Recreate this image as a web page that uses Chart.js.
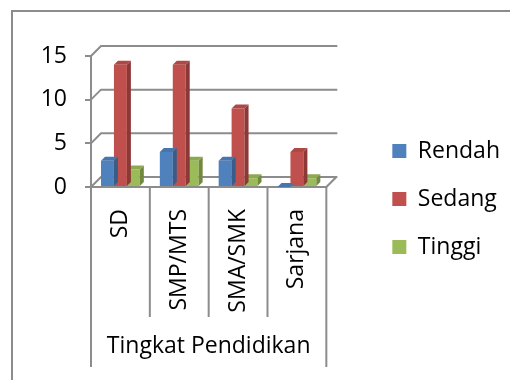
<!DOCTYPE html>
<html>
<head>
<meta charset="utf-8">
<script src="https://cdn.jsdelivr.net/npm/chart.js@4/dist/chart.umd.min.js"></script>
<style>
  html, body { margin: 0; padding: 0; background: #fff; }
  #wrap { position: relative; width: 510px; height: 380px; overflow: hidden; }
  #frame { position: absolute; left: 11px; top: 10px; width: 520px; height: 390px;
           border-left: 2px solid #8c8c8c; border-top: 2px solid #8c8c8c; }
  #myChart { position: absolute; left: 0; top: 0; }
</style>
</head>
<body>
<div id="wrap">
  <div id="frame"></div>
  <canvas id="myChart" width="510" height="380"></canvas>
</div>
<script>
// Tingkat Pendidikan chart
const labels = ['SD', 'SMP/MTS', 'SMA/SMK', 'Sarjana'];
const rendah = [3, 4, 3, 0];
const sedang = [14, 14, 9, 4];
const tinggi = [2, 3, 1, 1];
const yTicks = [0, 5, 10, 15];

const gray = '#8c8c8c';
Chart.defaults.font.family = 'Open Sans';
Chart.defaults.font.size = 23;
Chart.defaults.color = '#000';

// fake 3d: back wall, floor, bar sides and tops
const threeD = {
  id: 'threeD',
  beforeDatasetsDraw(chart) {
    const { ctx, chartArea: a, scales: { y } } = chart;
    ctx.save();
    ctx.strokeStyle = gray;
    ctx.lineWidth = 2;
    yTicks.forEach(v => {
      const py = y.getPixelForValue(v);
      ctx.beginPath();
      ctx.moveTo(a.left, py);
      ctx.lineTo(a.left + 10, py - 10);
      ctx.lineTo(a.right + 11, py - 10);
      ctx.stroke();
    });
    ctx.beginPath();
    ctx.moveTo(a.right, a.bottom);
    ctx.lineTo(a.right + 10, a.bottom - 10);
    ctx.stroke();
    ctx.restore();
  },
  afterDatasetDraw(chart, args) {
    const { ctx } = chart;
    const ds = chart.data.datasets[args.index];
    ctx.save();
    args.meta.data.forEach(el => {
      const { x, y, base, width } = el.getProps(['x', 'y', 'base', 'width'], true);
      const l = x - width / 2, r = x + width / 2;
      ctx.fillStyle = ds.sideColor;
      ctx.beginPath();
      ctx.moveTo(r, y); ctx.lineTo(r + 4, y - 4); ctx.lineTo(r + 4, base - 4); ctx.lineTo(r, base);
      ctx.closePath(); ctx.fill();
      ctx.fillStyle = ds.topColor;
      ctx.beginPath();
      ctx.moveTo(l, y); ctx.lineTo(l + 4, y - 4); ctx.lineTo(r + 4, y - 4); ctx.lineTo(r, y);
      ctx.closePath(); ctx.fill();
    });
    ctx.restore();
  },
  afterDraw(chart) {
    const { ctx, chartArea: a, scales: { x } } = chart;
    ctx.save();
    ctx.strokeStyle = gray;
    ctx.lineWidth = 2;
    const n = labels.length;
    for (let i = 0; i <= n; i++) {
      let px;
      if (i === 0) px = a.left;
      else if (i === n) px = a.right;
      else px = (x.getPixelForValue(i - 1) + x.getPixelForValue(i)) / 2;
      const len = (i === 0 || i === n) ? 180 : 130;
      ctx.beginPath();
      ctx.moveTo(px, a.bottom);
      ctx.lineTo(px, a.bottom + len);
      ctx.stroke();
    }
    ctx.restore();
  }
};

const ctx = document.getElementById('myChart').getContext('2d');
new Chart(ctx, {
  type: 'bar',
  data: {
    labels: labels,
    datasets: [
      { label: 'Rendah', data: rendah, backgroundColor: '#4F81BD', sideColor: '#385D8A', topColor: '#4775AD' },
      { label: 'Sedang', data: sedang, backgroundColor: '#C0504D', sideColor: '#8C3836', topColor: '#AE4845' },
      { label: 'Tinggi', data: tinggi, backgroundColor: '#9BBB59', sideColor: '#71893F', topColor: '#8CA950' }
    ]
  },
  options: {
    responsive: false,
    animation: false,
    layout: { padding: { top: 38, bottom: 20, left: 0, right: 0 } },
    datasets: {
      bar: { categoryPercentage: 0.66, barPercentage: 1.0, borderWidth: 0 }
    },
    plugins: {
      title: { display: true, text: ' ', fullSize: false, font: { size: 10 }, padding: { top: 0, bottom: 6 } },
      tooltip: { enabled: false },
      legend: {
        position: 'right',
        maxWidth: 220,
        labels: { boxWidth: 14, boxHeight: 14, padding: 25, font: { size: 23 } }
      }
    },
    scales: {
      x: {
        grid: { display: false },
        border: { display: true, color: gray, width: 2 },
        ticks: { autoSkip: false, minRotation: 90, maxRotation: 90, padding: 14 },
        title: { display: true, text: 'Tingkat Pendidikan', font: { size: 23 }, padding: 0 },
        afterFit: s => { s.height = 173; }
      },
      y: {
        min: 0,
        max: 15,
        ticks: { stepSize: 5, padding: 18 },
        grid: { drawOnChartArea: false, drawTicks: true, tickLength: 6, color: gray, lineWidth: 2 },
        border: { display: true, color: gray, width: 2 },
        afterFit: s => { s.width = 91; }
      },
      gap: {
        type: 'linear',
        position: 'right',
        display: true,
        ticks: { display: false },
        grid: { display: false },
        border: { display: false },
        afterFit: s => { s.width = 41; }
      }
    }
  },
  plugins: [threeD]
});
</script>
</body>
</html>
